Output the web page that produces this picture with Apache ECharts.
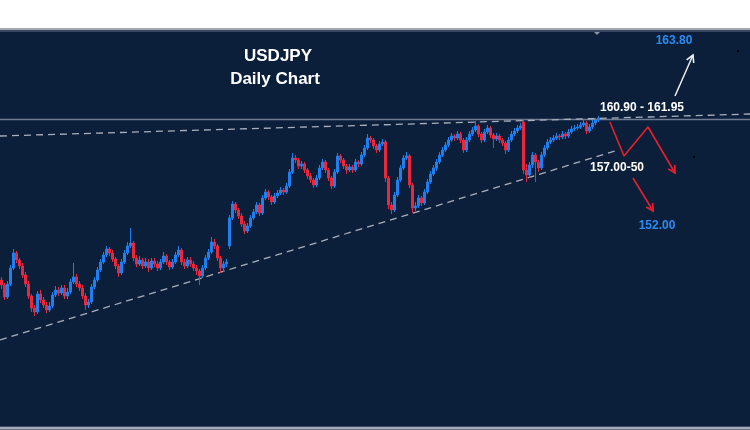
<!DOCTYPE html>
<html><head><meta charset="utf-8">
<script src="https://cdn.jsdelivr.net/npm/echarts@6/dist/echarts.min.js"></script>
<style>html,body{margin:0;padding:0;background:#fff}#c{width:750px;height:430px}</style>
</head><body><div id="c"></div>
<script>
// ---- data (USDJPY daily, prices) ----
const totalDays = 250;
const days = Array.from({length: totalDays}, (_, i) => 'D' + (i + 1));

const opens = [145.8,145.3,144.1,145.4,147.0,148.5,147.8,147.2,146.3,145.4,
144.2,143.0,142.6,144.4,143.8,143.3,142.8,143.2,144.3,144.8,
144.5,145.0,144.2,144.6,145.6,146.1,145.4,145.0,144.2,143.3,
143.6,145.1,145.8,146.8,147.6,148.3,148.9,148.5,147.9,147.2,
146.5,147.6,148.5,149.2,149.5,148.0,147.4,147.8,147.2,147.6,
147.0,147.7,147.4,147.0,147.6,148.2,147.6,147.1,147.6,148.3,
148.8,147.6,147.2,147.8,147.4,147.0,146.7,146.2,147.0,148.0,
148.6,149.6,149.2,148.0,147.0,147.4,149.2,152.0,153.4,152.8,
152.2,151.4,150.7,151.2,152.0,152.6,153.3,152.5,154.0,154.6,
154.1,153.6,154.2,154.5,154.8,154.6,155.2,156.6,158.0,157.8,
157.2,157.4,156.8,156.2,155.8,155.3,156.0,157.0,157.6,156.8,
156.0,155.2,156.6,158.2,157.8,157.2,156.8,157.1,156.8,157.6,
157.4,158.3,159.0,160.0,159.8,159.2,158.8,159.4,159.6,156.0,
153.3,152.8,154.3,155.8,157.0,158.0,158.2,155.3,153.0,153.2,
154.0,153.5,154.6,155.6,156.4,157.0,157.6,158.3,158.8,159.3,
159.8,160.2,160.0,160.4,159.8,158.8,159.8,160.4,160.8,161.2,
160.4,159.8,160.6,161.0,160.3,159.9,160.2,159.8,159.5,158.8,
159.8,160.4,160.7,161.0,161.6,156.8,156.3,157.3,158.3,157.6,
157.0,158.3,159.0,159.6,159.8,160.0,160.2,160.1,160.4,160.2,
160.6,160.9,161.0,161.1,161.3,161.5,160.7,161.1,161.5,161.8];

const closes = [145.3,144.1,145.4,147.0,148.5,147.8,147.2,146.3,145.4,144.2,
143.0,142.6,144.4,143.8,143.3,142.8,143.2,144.3,144.8,144.5,
145.0,144.2,144.6,145.6,146.1,145.4,145.0,144.2,143.3,143.6,
145.1,145.8,146.8,147.6,148.3,148.9,148.5,147.9,147.2,146.5,
147.6,148.5,149.2,149.5,148.0,147.4,147.8,147.2,147.6,147.0,
147.7,147.4,147.0,147.6,148.2,147.6,147.1,147.6,148.3,148.8,
147.6,147.2,147.8,147.4,147.0,146.7,146.2,147.0,148.0,148.6,
149.6,149.2,148.0,147.0,147.4,147.6,152.0,153.4,152.8,152.2,
151.4,150.7,151.2,152.0,152.6,153.3,152.5,154.0,154.6,154.1,
153.6,154.2,154.5,154.8,154.6,155.2,156.6,158.0,157.8,157.2,
157.4,156.8,156.2,155.8,155.3,156.0,157.0,157.6,156.8,156.0,
155.2,156.6,158.2,157.8,157.2,156.8,157.1,156.8,157.6,157.4,
158.3,159.0,160.0,159.8,159.2,158.8,159.4,159.6,156.0,153.3,
152.8,154.3,155.8,157.0,158.0,158.2,155.3,153.0,153.2,154.0,
153.5,154.6,155.6,156.4,157.0,157.6,158.3,158.8,159.3,159.8,
160.2,160.0,160.4,159.8,158.8,159.8,160.4,160.8,161.2,160.4,
159.8,160.6,161.0,160.3,159.9,160.2,159.8,159.5,158.8,159.8,
160.4,160.7,161.0,161.2,156.8,156.3,157.3,158.3,157.6,157.0,
158.3,159.0,159.6,159.8,160.0,160.2,160.1,160.4,160.2,160.6,
160.9,161.0,161.1,161.3,161.5,160.7,161.1,161.5,161.8,162.0];

const highs = [146.1,145.5,145.7,147.3,148.9,148.7,148.0,147.5,146.6,145.7,
144.4,143.3,144.7,144.8,144.1,143.6,143.6,144.6,145.2,145.1,
145.3,145.3,145.0,145.9,147.5,146.4,145.7,145.3,144.5,143.9,
145.4,146.1,147.1,147.9,148.6,149.2,149.1,148.8,148.1,147.4,
147.9,148.8,149.6,151.0,149.7,148.3,148.2,148.0,148.0,147.9,
148.0,148.0,147.7,147.9,148.6,148.4,147.8,147.9,148.6,149.2,
149.0,147.9,148.1,148.1,147.7,147.3,146.9,147.3,148.3,148.9,
150.1,149.9,149.4,148.2,147.7,147.9,152.3,153.7,153.6,153.0,
152.5,151.7,151.5,152.3,152.9,153.6,153.5,154.3,154.9,154.8,
154.3,154.5,154.8,155.1,155.0,155.5,156.9,158.5,158.3,158.0,
157.7,157.6,157.0,156.5,156.0,156.3,157.3,157.9,157.8,157.0,
156.2,156.9,158.5,158.4,158.0,157.4,157.4,157.3,157.9,157.8,
158.6,159.3,160.4,160.2,160.0,159.4,159.7,159.9,159.8,156.2,
153.6,154.6,156.1,157.3,158.3,158.6,158.4,155.5,153.6,154.3,
154.2,154.9,155.9,156.7,157.3,157.9,158.6,159.1,159.6,160.1,
160.5,160.4,160.7,160.6,160.0,160.1,160.7,161.1,161.7,161.4,
160.6,160.9,161.3,161.2,160.5,160.5,160.4,160.0,159.7,160.1,
160.7,161.0,161.3,161.5,161.9,157.4,157.6,158.6,158.5,157.8,
158.6,159.3,159.9,160.1,160.3,160.5,160.4,160.7,160.6,160.9,
161.2,161.3,161.4,161.6,161.8,161.7,161.4,161.8,162.0,162.2];

const lows = [144.9,143.8,143.9,145.2,146.8,147.5,146.9,146.0,145.1,143.9,
142.6,142.2,142.4,143.5,143.0,142.5,142.6,143.0,144.1,144.2,
144.3,143.9,143.9,144.4,145.4,145.1,144.7,143.9,142.8,143.0,
143.4,144.9,145.6,146.6,147.4,148.1,148.2,147.6,146.9,146.1,
146.3,147.4,148.3,149.0,147.7,147.1,147.2,146.9,147.0,146.6,
146.8,147.1,146.7,146.8,147.4,147.3,146.8,146.9,147.4,148.1,
147.3,146.9,147.0,147.1,146.7,146.3,145.3,146.0,146.8,147.8,
148.4,148.9,147.7,146.5,146.6,147.1,148.9,151.8,152.5,151.9,
151.1,150.4,150.5,151.0,151.8,152.4,152.2,152.3,153.8,153.8,
153.3,153.4,154.0,154.3,154.3,154.4,155.0,156.4,157.5,156.9,
156.9,156.5,155.9,155.5,155.0,155.1,155.8,156.8,156.5,155.7,
154.9,155.0,156.4,157.5,156.9,156.4,156.6,156.5,156.6,157.1,
157.2,158.1,158.8,159.5,158.9,158.5,158.6,159.2,155.6,152.9,
152.4,152.6,154.1,155.6,156.8,157.8,155.0,152.5,152.7,153.0,
153.2,153.3,154.4,155.4,156.2,156.7,157.4,158.1,158.6,159.1,
159.6,159.7,159.8,159.5,158.5,158.6,159.6,160.2,160.6,160.1,
159.5,159.6,160.4,160.0,159.0,159.7,159.5,159.2,158.4,158.6,
159.6,160.2,160.5,160.8,156.4,155.6,156.0,157.0,155.6,156.6,
156.8,158.1,158.8,159.4,159.6,159.8,159.8,159.9,159.9,160.0,
160.4,160.7,160.8,160.9,161.1,160.4,160.5,160.9,161.3,161.6];

// trend lines and projections, [day index, price]
const upperTrend = [[-0.5, 160.2], [249.5, 162.4]];
const resistance = [[-0.5, 161.85], [249.5, 161.85]];
const lowerTrend = [[-0.5, 139.8], [204.5, 158.7]];
const bullPath = [[224.5, 164.2], [230.5, 168.3]];
const bearPath = [[202.8, 161.6], [207.5, 158.2], [215.5, 161.1], [224.5, 156.5]];
const dropPath = [[210.5, 156.0], [217.2, 152.7]];

const candles = opens.map((o, i) => [o, closes[i], lows[i], highs[i]]);

const chart = echarts.init(document.getElementById('c'), null, {renderer: 'canvas'});
const font = '"Liberation Sans", Arial, sans-serif';
const pathSeries = (path, color, width) => ({
  type: 'line', xAxisIndex: 1, data: path, symbol: 'none',
  lineStyle: {color: color, width: width}, z: 4
});
chart.setOption({
  animation: false,
  backgroundColor: '#0b1f3b',
  grid: {left: 0, right: 0, top: 32, bottom: 4},
  xAxis: [
    {type: 'category', data: days, show: false, boundaryGap: true},
    {type: 'value', min: -0.5, max: 249.5, show: false}
  ],
  yAxis: {type: 'value', min: 131.2, max: 170.6, show: false, splitLine: {show: false}},
  series: [
    {type: 'line', xAxisIndex: 1, data: resistance, symbol: 'none',
     lineStyle: {color: '#6f7c92', width: 1.5}, z: 1},
    {type: 'line', xAxisIndex: 1, data: upperTrend, symbol: 'none',
     lineStyle: {color: '#a9b0bc', width: 1.3, type: [7, 5]}, z: 1},
    {type: 'line', xAxisIndex: 1, data: lowerTrend, symbol: 'none',
     lineStyle: {color: '#a9b0bc', width: 1.3, type: [7, 5]}, z: 1},
    {type: 'candlestick', xAxisIndex: 0, data: candles, barWidth: 2,
     itemStyle: {color: '#1f7fef', color0: '#e8283c', borderColor: '#1f7fef', borderColor0: '#e8283c', borderWidth: 1},
     z: 3},
    pathSeries(bullPath, '#f0f0f0', 1.5),
    pathSeries(bearPath, '#e8202a', 1.6),
    pathSeries(dropPath, '#e8202a', 1.6)
  ],
  graphic: [
    {id: 'topWhite', type: 'rect', shape: {x: 0, y: 0, width: 750, height: 28}, style: {fill: '#ffffff'}, z: 10},
    {id: 'topLine1', type: 'rect', shape: {x: 0, y: 28, width: 750, height: 2}, style: {fill: '#a3a9b3'}, z: 10},
    {id: 'topLine2', type: 'rect', shape: {x: 0, y: 30, width: 750, height: 2}, style: {fill: '#3a4760'}, z: 10},
    {id: 'marker', type: 'polygon', shape: {points: [[594, 32], [600, 32], [597, 35]]}, style: {fill: '#8d96a5'}, z: 10},
    {id: 'bot1', type: 'rect', shape: {x: 0, y: 426, width: 750, height: 1}, style: {fill: '#3f4b64'}, z: 10},
    {id: 'bot2', type: 'rect', shape: {x: 0, y: 427, width: 750, height: 2}, style: {fill: '#a3aab6'}, z: 10},
    {id: 'bot3', type: 'rect', shape: {x: 0, y: 429, width: 750, height: 1}, style: {fill: '#6b7588'}, z: 10},
    {id: 't1', type: 'text', x: 278, y: 56, style: {text: 'USDJPY', fill: '#ffffff', font: 'bold 17px ' + font, textAlign: 'center', textVerticalAlign: 'middle'}, z: 10},
    {id: 't2', type: 'text', x: 275, y: 79, style: {text: 'Daily Chart', fill: '#ffffff', font: 'bold 17px ' + font, textAlign: 'center', textVerticalAlign: 'middle'}, z: 10},
    {id: 't3', type: 'text', x: 674, y: 41, style: {text: '163.80', fill: '#2b8cf2', font: 'bold 12px ' + font, textAlign: 'center', textVerticalAlign: 'middle'}, z: 10},
    {id: 't4', type: 'text', x: 642, y: 108, style: {text: '160.90 - 161.95', fill: '#ffffff', font: 'bold 12px ' + font, textAlign: 'center', textVerticalAlign: 'middle'}, z: 10},
    {id: 't5', type: 'text', x: 617, y: 168, style: {text: '157.00-50', fill: '#ffffff', font: 'bold 12px ' + font, textAlign: 'center', textVerticalAlign: 'middle'}, z: 10},
    {id: 't6', type: 'text', x: 657, y: 226, style: {text: '152.00', fill: '#2b8cf2', font: 'bold 12px ' + font, textAlign: 'center', textVerticalAlign: 'middle'}, z: 10},
    {id: 'dot1', type: 'rect', shape: {x: 737, y: 50, width: 2, height: 2}, style: {fill: '#000000'}, z: 10},
    {id: 'dot2', type: 'rect', shape: {x: 693, y: 156, width: 2, height: 2}, style: {fill: '#000000'}, z: 10}
  ]
});

// open chevron arrowheads at the end of each projection path
function arrowHead(id, path, color, width) {
  const finder = {xAxisIndex: 1, yAxisIndex: 0};
  const a = chart.convertToPixel(finder, path[path.length - 2]);
  const b = chart.convertToPixel(finder, path[path.length - 1]);
  const ang = Math.atan2(b[1] - a[1], b[0] - a[0]);
  const len = 8, spread = 0.5;
  const p1 = [b[0] - len * Math.cos(ang - spread), b[1] - len * Math.sin(ang - spread)];
  const p2 = [b[0] - len * Math.cos(ang + spread), b[1] - len * Math.sin(ang + spread)];
  return {id: id, type: 'polyline', shape: {points: [p1, b, p2]},
          style: {stroke: color, lineWidth: width, fill: null}, z: 9};
}
chart.setOption({graphic: [
  arrowHead('ah1', bullPath, '#f0f0f0', 1.6),
  arrowHead('ah2', bearPath, '#e8202a', 1.7),
  arrowHead('ah3', dropPath, '#e8202a', 1.7)
]});
</script></body></html>
